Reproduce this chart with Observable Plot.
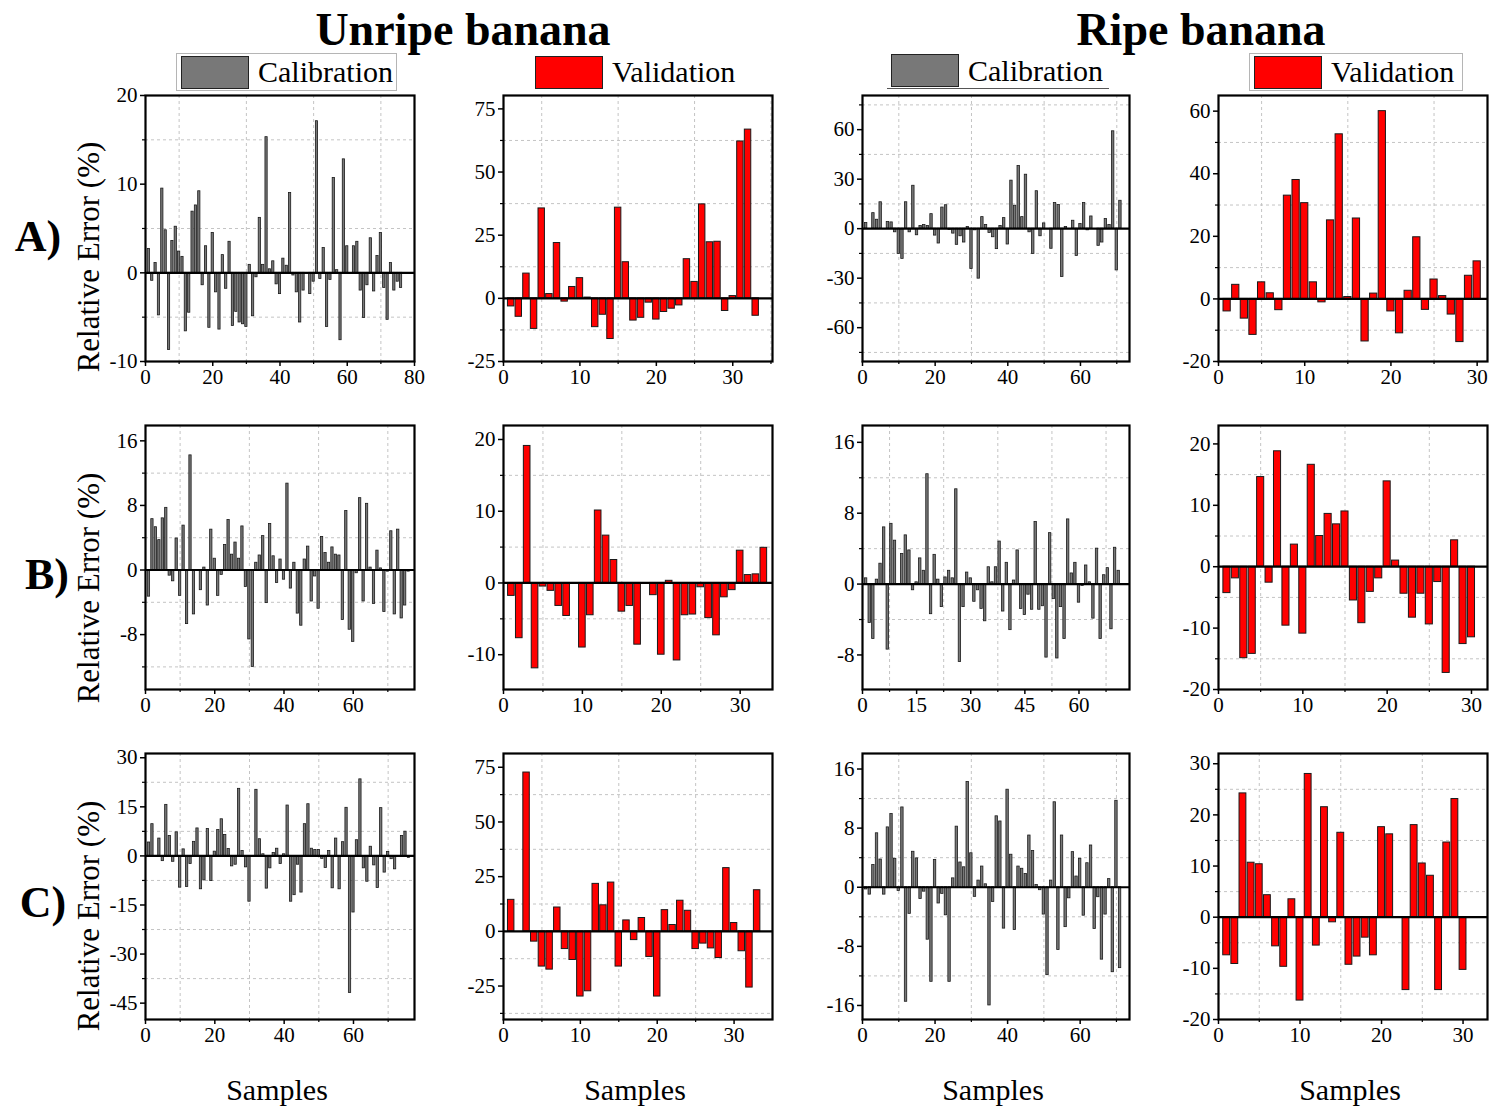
<!DOCTYPE html>
<html><head><meta charset="utf-8">
<script src="https://cdn.jsdelivr.net/npm/d3@7"></script>
<script src="https://cdn.jsdelivr.net/npm/@observablehq/plot@0.6"></script>
<style>
html,body{margin:0;padding:0;background:#fff;}
body{width:1490px;height:1108px;position:relative;overflow:hidden;font-family:"Liberation Serif","Times New Roman",serif;color:#000;}
.abs{position:absolute;}
.abs svg{max-width:none !important;}
.title{font-weight:bold;font-size:46px;line-height:46px;white-space:nowrap;transform:translateX(-50%);}
.row{font-weight:bold;font-size:44px;line-height:44px;white-space:nowrap;transform:translate(-50%,-50%);}
.ytitle{font-size:31px;line-height:31px;white-space:nowrap;transform:translate(-50%,-50%) rotate(-90deg);}
.xtitle{font-size:30px;line-height:30px;white-space:nowrap;transform:translate(-50%,-50%);}
.legend{display:flex;align-items:center;box-sizing:border-box;font-size:30px;line-height:30px;white-space:nowrap;}
.sw{box-sizing:border-box;border:1px solid #222;margin-right:9px;}
</style></head><body>
<script>
// ---------- data (sample index = position + 1) ----------
const unripeCalA = [2.7,-0.9,1.1,-4.8,9.5,4.8,-8.7,3.6,5.2,2.4,1.8,-6.6,-4.5,6.9,7.6,9.2,-1.4,3.0,-6.2,4.5,-2.2,-6.4,2.0,-1.8,3.5,-6.0,-4.4,-5.6,-5.8,-6.1,0.9,-4.9,-0.5,6.2,0.9,15.3,0.4,1.3,-1.3,-2.4,1.6,0.8,9.0,-0.3,-2.2,-5.6,-2.0,0,-2.4,-1.0,17.1,-0.7,2.8,-6.1,-0.8,10.7,0.3,-7.6,12.8,3.0,0,3.0,3.5,-2.0,-5.1,-1.4,3.9,-2.1,1.9,4.5,-1.7,-5.3,1.1,-2.0,-1.0,-1.7];
const unripeValA = [-3.2,-7.3,9.8,-12.1,35.6,1.7,21.9,-1.3,4.5,8.0,0.3,-11.4,-6.5,-16.1,35.9,14.3,-8.8,-7.7,-1.7,-8.4,-5.4,-4.1,-2.8,15.5,6.5,37.2,22.2,22.4,-5.0,0.9,62.1,66.8,-6.9];
const ripeCalA = [3.4,0,9.4,5.4,16,0,4,3.8,-2.2,-15.3,-18.3,16,-2.2,26,-4,1.6,2.2,1.6,8.8,-4.2,-9,12.8,14.2,-0.8,-3,-9.8,-4.6,-8.4,1,-24.5,-1,-30.3,7,2.2,-2.6,-5.2,-12.4,1.6,6.4,-9.6,29.1,13.9,38,7,32.7,-2.2,-15.3,22.7,-4.6,3.2,0,-12.2,15.5,14.3,-29.3,1,0,4.8,-16.5,2.8,15.5,-1,7.4,0,-10.4,-8.4,5.8,2.2,59,-25.3,16.9];
const ripeValA = [-4.0,4.5,-6.3,-11.5,5.3,1.8,-3.6,33,38,30.6,5.3,-1.1,25.1,52.6,0.6,25.7,-13.6,1.7,60,-4.0,-11,2.6,19.7,-3.5,6.2,0.9,-5.0,-13.8,7.4,12.0];

const unripeCalB = [-3.3,6.3,5.3,3.7,6.4,7.7,-0.7,-1.4,3.9,-3.2,5.5,-6.7,14.2,-5.5,0,-2.5,0.3,-4.4,5.0,1.4,-3.2,-0.6,3.1,6.2,1.9,3.4,1.4,5.4,-2.1,-8.6,-12,0.9,1.8,4.2,-4.1,5.7,1.7,-1.6,1.3,-1.2,10.7,-2.3,0.9,-5.4,-6.9,1.3,2.9,-3.9,-0.8,-4.8,4.1,2.1,0.9,2.8,1.9,1.8,-6.2,7.3,-7.4,-8.9,-0.4,8.9,-3.9,8.2,0.3,-4.2,2.4,0.2,-5.2,-0.2,4.8,-5.5,5.0,-6.0,-4.4,-0.2];
const unripeValB = [-1.8,-7.7,19.1,-11.9,-0.5,-1.1,-3.2,-4.6,0,-9.0,-4.5,10.1,6.6,3.2,-4.0,-3.2,-8.6,0,-1.7,-10.0,0.3,-10.8,-4.5,-4.4,-0.6,-4.9,-7.3,-2.0,-1.0,4.5,1.1,1.2,4.9];
const ripeCalB = [0.65,-4.4,-6.2,0.5,2.3,6.4,-7.4,6.8,4.9,0,3.4,5.5,3.8,-0.7,0.2,2.9,1.5,12.4,-3.4,3.3,0.5,-2.6,0.75,1.5,0.65,10.7,-8.8,-2.6,1.3,0.65,-2.0,-0.7,-2.8,-4.2,1.9,0.2,1.9,4.8,-3.1,2.4,-5.2,0.4,3.8,-2.8,-3.5,-1.2,-2.9,7.0,-2.9,-2.5,-8.3,5.75,-1.7,-8.4,-2.6,-6.2,7.3,1.2,2.4,-2.1,-0.2,2.1,0.2,-3.9,4.0,-6.2,1.0,1.8,-5.1,4.1,1.5];
const ripeValB = [-4.3,-1.9,-14.9,-14.2,14.6,-2.6,18.8,-9.6,3.6,-10.9,16.6,5.0,8.6,6.9,9.0,-5.5,-9.2,-4.1,-1.9,13.9,1.0,-4.4,-8.3,-4.4,-9.4,-2.5,-17.3,4.3,-12.6,-11.5];

const unripeCalC = [4.1,9.7,0,5.3,-1.6,15.6,6.1,-1.8,7.2,-9.7,2.0,-9.5,-2.5,4.3,8.4,-10.2,-7.5,8.2,-7.7,1.3,7.9,11.2,6.4,2.1,-3.2,-2.7,20.5,1.5,-3.5,-14,0,20.2,5.1,0.5,-10,-3.8,0.9,2.2,-2.5,0.5,15.4,-14,-12,-2.7,-11.2,9.7,15.8,2.2,1.8,1.8,-0.9,-3.7,1.5,-9.9,5.3,-10.2,4.2,14.7,-41.9,-17.3,4.8,23.4,-3.8,-7.9,2.8,-2.9,-9.8,14.6,-5.1,1.2,-1.0,-4.1,0,6.1,7.4,-0.6];
const unripeValC = [14.4,0,72.6,-4.7,-16.1,-17.5,10.9,-8.1,-13.1,-29.8,-27.4,21.7,11.9,22.3,-16.1,5.0,-4.0,6.1,-11.7,-29.8,9.7,2.9,14.0,9.4,-8.1,-5.6,-7.8,-12.2,28.9,3.8,-9.1,-25.7,18.8];
const ripeCalC = [-0.3,-1.0,3.0,7.3,3.75,-1.0,8.1,9.9,3.85,-0.5,10.8,-15.5,-3.6,4.8,3.9,-1.6,-0.6,-7.1,-12.8,3.7,-2.2,-0.9,-3.8,-12.8,1.2,8.2,3.35,2.7,14.25,4.6,-1.3,0.9,2.8,0.4,-16,-2.0,9.6,8.9,-5.6,13.2,4.4,-5.8,2.8,2.5,1.8,7.0,4.9,0.3,-0.4,-3.7,-11.9,0.9,11.5,-8.5,7.0,-5.4,-1.5,4.75,1.45,3.85,-3.85,3.25,5.65,-5.65,-1.35,-9.8,-3.7,1.1,-11.5,11.7,-10.95];
const ripeValC = [-7.45,-9.15,24.2,10.65,10.35,4.3,-5.7,-9.7,3.5,-16.3,28.0,-5.55,21.5,-1.0,16.5,-9.3,-7.7,-4.0,-7.45,17.6,16.2,0,-14.25,18.0,10.5,8.1,-14.25,14.6,23.1,-10.3];

// tick labels
const xTicks80 = [0,20,40,60,80];
const xTicks60 = [0,20,40,60];
const xTicks30 = [0,10,20,30];
const xTicks15 = [0,15,30,45,60];
const yTicksA1 = [-10,0,10,20];
const yTicksA2 = [-25,0,25,50,75];
const yTicksA3 = [-60,-30,0,30,60];
const yTicksA4 = [-20,0,20,40,60];
const yTicksB1 = [-8,0,8,16];
const yTicksB2 = [-10,0,10,20];
const yTicksB3 = [-8,0,8,16];
const yTicksB4 = [-20,-10,0,10,20];
const yTicksC1 = [-45,-30,-15,0,15,30];
const yTicksC2 = [-25,0,25,50,75];
const yTicksC3 = [-16,-8,0,8,16];
const yTicksC4 = [-20,-10,0,10,20,30];

const titles = ["Unripe banana", "Ripe banana"];
const rowLabels = ["A)", "B)", "C)"];
const seriesNames = ["Calibration", "Validation"];
const yTitle = "Relative Error (%)";
const xTitle = "Samples";

// ---------- layout ----------
const GRAY = "#787878", RED = "#ff0000";
const colX = [[145,414],[503,772],[862,1129],[1218,1487]];
const rowY = [[95,361],[425,689],[753,1019]];
const ML = 55, MR = 16, MT = 8, MB = 34;

const panels = [
  {r:0,c:0,v:unripeCalA,kind:0,xd:[0,80],xt:xTicks80,yd:[-10,20],yt:yTicksA1},
  {r:0,c:1,v:unripeValA,kind:1,xd:[0,35.2],xt:xTicks30,yd:[-25,80.3],yt:yTicksA2},
  {r:0,c:2,v:ripeCalA,kind:0,xd:[0,73.5],xt:xTicks60,yd:[-80.5,80.7],yt:yTicksA3},
  {r:0,c:3,v:ripeValA,kind:1,xd:[0,31.2],xt:xTicks30,yd:[-20,65],yt:yTicksA4},
  {r:1,c:0,v:unripeCalB,kind:0,xd:[0,77.7],xt:xTicks60,yd:[-14.8,17.9],yt:yTicksB1},
  {r:1,c:1,v:unripeValB,kind:1,xd:[0,34.1],xt:xTicks30,yd:[-14.85,21.95],yt:yTicksB2},
  {r:1,c:2,v:ripeCalB,kind:0,xd:[0,74],xt:xTicks15,yd:[-11.9,17.9],yt:yTicksB3},
  {r:1,c:3,v:ripeValB,kind:1,xd:[0,31.9],xt:xTicks30,yd:[-20,23],yt:yTicksB4},
  {r:2,c:0,v:unripeCalC,kind:0,xd:[0,77.6],xt:xTicks60,yd:[-50,31.3],yt:yTicksC1},
  {r:2,c:1,v:unripeValC,kind:1,xd:[0,35],xt:xTicks30,yd:[-40.3,81.3],yt:yTicksC2},
  {r:2,c:2,v:ripeCalC,kind:0,xd:[0,73.6],xt:xTicks60,yd:[-17.9,18.1],yt:yTicksC3},
  {r:2,c:3,v:ripeValC,kind:1,xd:[0,33],xt:xTicks30,yd:[-20,32],yt:yTicksC4},
];

function mids(t, dom) {
  const step = t[1]-t[0];
  const out = [];
  for (let v = t[0]-step/2; v <= dom[1]; v += step) if (v > dom[0] && v < dom[1]) out.push(v);
  return out;
}

const fmt = d => String(d);

panels.forEach(p => {
  const [x0,x1] = colX[p.c], [y0,y1] = rowY[p.r];
  const fw = x1-x0, fh = y1-y0;
  const data = p.v.map((v,k) => ({sample:k+1, err:v}));
  const bw = p.kind ? 0.84 : 0.66;
  const mx = mids(p.xt, p.xd), my = mids(p.yt, p.yd);
  const W = fw+ML+MR, H = fh+MT+MB;
  const plot = Plot.plot({
    width: W, height: H,
    marginLeft: ML, marginRight: MR, marginTop: MT, marginBottom: MB,
    style: {fontFamily: '"Liberation Serif","Times New Roman",serif', fontSize: "21px", color: "#000", background: "transparent", overflow: "visible", maxWidth: "none"},
    x: {domain: p.xd, label: null},
    y: {domain: p.yd, label: null},
    marks: [
      Plot.gridX(mx, {stroke: "#c4c4c4", strokeOpacity: 1, strokeDasharray: "3,3", strokeWidth: 1}),
      Plot.gridY(my, {stroke: "#c4c4c4", strokeOpacity: 1, strokeDasharray: "3,3", strokeWidth: 1}),
      Plot.rect(data, {x1: d => d.sample - bw/2, x2: d => d.sample + bw/2, y1: 0, y2: "err",
        fill: p.kind ? RED : GRAY, stroke: "#1a1a1a", strokeWidth: p.kind ? 1 : 0.8}),
      Plot.ruleY([0], {stroke: "#000", strokeWidth: 2.2}),
      Plot.axisX(p.xt, {tickSize: 5, tickPadding: 3, tickFormat: fmt, fontSize: 21, label: null, strokeWidth: 1.5}),
      Plot.axisX(mx, {tickSize: 3, tickFormat: () => "", label: null, strokeWidth: 1.2}),
      Plot.axisY(p.yt, {tickSize: 5, tickPadding: 3, tickFormat: fmt, fontSize: 21, label: null, strokeWidth: 1.5}),
      Plot.axisY(my, {tickSize: 3, tickFormat: () => "", label: null, strokeWidth: 1.2}),
      Plot.frame({stroke: "#000", strokeWidth: 2.2})
    ]
  });
  const d = document.createElement("div");
  d.className = "abs";
  d.style.left = (x0-ML) + "px";
  d.style.top = (y0-MT) + "px";
  d.style.width = W + "px";
  d.style.height = H + "px";
  d.appendChild(plot);
  document.body.appendChild(d);
});

function addDiv(cls, text, left, top, extra) {
  const d = document.createElement("div");
  d.className = "abs " + cls;
  d.textContent = text;
  d.style.left = left + "px";
  d.style.top = top + "px";
  if (extra) Object.assign(d.style, extra);
  document.body.appendChild(d);
  return d;
}

addDiv("title", titles[0], 463, 7);
addDiv("title", titles[1], 1201, 7);

const rowCenters = [[38,237],[47,575],[43,903]];
rowLabels.forEach((t,i) => addDiv("row", t, rowCenters[i][0], rowCenters[i][1]));
const yTitleY = [257,588,916];
yTitleY.forEach(y => addDiv("ytitle", yTitle, 88, y));
[277,635,993,1350].forEach(x => addDiv("xtitle", xTitle, x, 1090));

// legends
const legends = [
  {x:176, y:53, w:221, h:38, kind:0, border:true},
  {x:531, y:53, w:214, h:38, kind:1, border:false},
  {x:887, y:53, w:222, h:36, kind:0, border:"under"},
  {x:1249, y:53, w:214, h:38, kind:1, border:true},
];
legends.forEach(L => {
  const d = document.createElement("div");
  d.className = "abs legend";
  Object.assign(d.style, {left: L.x+"px", top: L.y+"px", width: L.w+"px", height: L.h+"px", paddingLeft: "4px"});
  if (L.border === true) d.style.border = "1px solid #b5b5b5";
  if (L.border === "under") d.style.borderBottom = "1px solid #555";
  const s = document.createElement("div");
  s.className = "sw";
  Object.assign(s.style, {width: "68px", height: "33px", background: L.kind ? RED : GRAY});
  const t = document.createElement("span");
  t.textContent = seriesNames[L.kind];
  d.appendChild(s); d.appendChild(t);
  document.body.appendChild(d);
});
</script>
</body></html>
